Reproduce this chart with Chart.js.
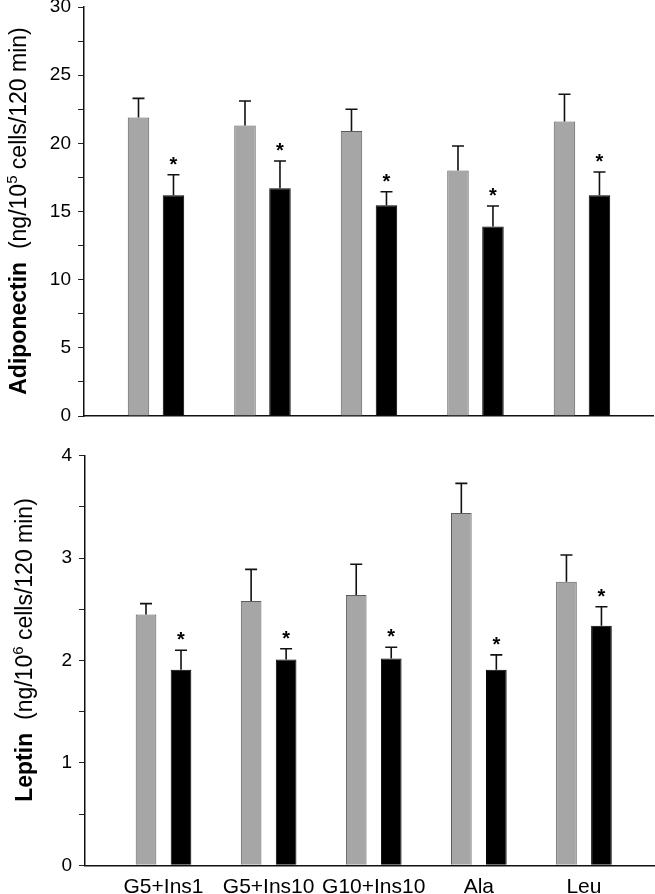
<!DOCTYPE html>
<html>
<head>
<meta charset="utf-8">
<script src="https://cdn.jsdelivr.net/npm/chart.js@4/dist/chart.umd.min.js"></script>
<style>
  html, body { margin: 0; padding: 0; background: #fff; }
  canvas { display: block; }
</style>
</head>
<body>
<canvas id="adipoChart" width="655" height="440"></canvas>
<canvas id="leptinChart" width="655" height="454"></canvas>
<script>
// categories shared by both panels
const categories = ['G5+Ins1', 'G5+Ins10', 'G10+Ins10', 'Ala', 'Leu'];

// Adiponectin (ng/10^5 cells/120 min)
const adipoGray = [21.9, 21.3, 20.9, 18.0, 21.6];
const adipoGraySem = [1.4, 1.8, 1.6, 1.8, 2.0];
const adipoBlack = [16.2, 16.7, 15.45, 13.9, 16.2];
const adipoBlackSem = [1.5, 2.0, 1.0, 1.5, 1.7];
const adipoSig = [true, true, true, true, true];

// Leptin (ng/10^6 cells/120 min)
const leptinGray = [2.45, 2.58, 2.64, 3.44, 2.77];
const leptinGraySem = [0.105, 0.31, 0.30, 0.29, 0.26];
const leptinBlack = [1.91, 2.01, 2.02, 1.91, 2.34];
const leptinBlackSem = [0.19, 0.105, 0.11, 0.145, 0.185];
const leptinSig = [true, true, true, true, true];

Chart.defaults.font.family = "'Liberation Sans', Arial, sans-serif";
Chart.defaults.color = '#000';

// error bars (upper only) + significance stars
const errorBars = {
    id: 'errorBars',
    afterDatasetsDraw(chart) {
        const ctx = chart.ctx;
        const y = chart.scales.y;
        ctx.save();
        ctx.strokeStyle = '#111';
        ctx.fillStyle = '#000';
        ctx.lineWidth = 1.6;
        ctx.font = "bold 20px 'Liberation Sans', Arial, sans-serif";
        ctx.textAlign = 'center';
        ctx.textBaseline = 'alphabetic';
        chart.data.datasets.forEach((ds, di) => {
            const meta = chart.getDatasetMeta(di);
            meta.data.forEach((bar, i) => {
                const top = y.getPixelForValue(ds.data[i].y + ds.sem[i]);
                ctx.beginPath();
                ctx.moveTo(bar.x, bar.y);
                ctx.lineTo(bar.x, top);
                ctx.moveTo(bar.x - 6, top);
                ctx.lineTo(bar.x + 6, top);
                ctx.stroke();
                if (ds.sig && ds.sig[i]) {
                    ctx.fillText('*', bar.x, top - 4);
                }
            });
        });
        ctx.restore();
    }
};

// rotated y title with bold name + superscript unit
const axisTitle = {
    id: 'axisTitle',
    afterDraw(chart, args, opts) {
        if (!opts || !opts.bold) return;
        const ctx = chart.ctx;
        const fam = "'Liberation Sans', Arial, sans-serif";
        const fBold = 'bold 23px ' + fam;
        const fReg = '23px ' + fam;
        const fSup = '15px ' + fam;
        ctx.save();
        ctx.font = fBold; const w1 = ctx.measureText(opts.bold).width;
        ctx.font = fReg; const w2 = ctx.measureText(opts.pre).width;
        ctx.font = fSup; const w3 = ctx.measureText(opts.sup).width;
        ctx.font = fReg; const w4 = ctx.measureText(opts.post).width;
        const total = w1 + w2 + w3 + w4;
        ctx.translate(opts.x, opts.cy);
        ctx.rotate(-Math.PI / 2);
        ctx.fillStyle = '#000';
        ctx.textBaseline = 'alphabetic';
        ctx.textAlign = 'left';
        let pos = -total / 2;
        ctx.font = fBold; ctx.fillText(opts.bold, pos, 0); pos += w1;
        ctx.font = fReg; ctx.fillText(opts.pre, pos, 0); pos += w2;
        ctx.font = fSup; ctx.fillText(opts.sup, pos, -9); pos += w3;
        ctx.font = fReg; ctx.fillText(opts.post, pos, 0);
        ctx.restore();
    }
};

function toPoints(values) {
    return values.map((v, i) => ({ x: i, y: v }));
}

function makePanel(id, p) {
    new Chart(document.getElementById(id), {
        type: 'bar',
        data: {
            datasets: [
                {
                    data: toPoints(p.gray),
                    sem: p.graySem,
                    backgroundColor: '#a6a6a6',
                    borderColor: '#5c5c5c',
                    borderWidth: 1,
                    categoryPercentage: p.catPct,
                    barPercentage: p.barPct
                },
                {
                    data: toPoints(p.black),
                    sem: p.blackSem,
                    sig: p.sig,
                    backgroundColor: '#000',
                    borderColor: '#000',
                    borderWidth: 1,
                    categoryPercentage: p.catPct,
                    barPercentage: p.barPct
                }
            ]
        },
        options: {
            responsive: false,
            animation: false,
            events: [],
            layout: { padding: p.padding },
            plugins: {
                legend: { display: false },
                tooltip: { enabled: false },
                axisTitle: p.title
            },
            scales: {
                x: {
                    type: 'linear',
                    offset: false,
                    min: p.xMin,
                    max: p.xMax,
                    grid: { display: false, offset: false },
                    border: { display: true, color: '#111', width: 1.5 },
                    afterBuildTicks: (s) => { s.ticks = categories.map((c, i) => ({ value: i })); },
                    afterFit: (s) => { s.height = p.xHeight; s.paddingLeft = 0; s.paddingRight = 0; },
                    ticks: {
                        display: p.showLabels,
                        padding: 1,
                        font: { size: 21 },
                        color: '#000',
                        maxRotation: 0,
                        autoSkip: false,
                        callback: (v) => categories[v]
                    }
                },
                y: {
                    min: 0,
                    max: p.yMax,
                    afterFit: (s) => { s.width = p.yWidth; s.paddingTop = 0; s.paddingBottom = 0; },
                    grid: { drawOnChartArea: false, drawTicks: true, tickLength: 6, color: '#222', lineWidth: 1 },
                    border: { display: true, color: '#111', width: 1.5 },
                    ticks: {
                        stepSize: p.step,
                        padding: 7,
                        font: { size: 19 },
                        color: '#000',
                        autoSkip: false,
                        callback: (v) => (Math.abs(v / p.major - Math.round(v / p.major)) < 1e-6 ? String(v) : '')
                    }
                }
            }
        },
        plugins: [errorBars, axisTitle]
    });
}

// 1. Adiponectin
makePanel('adipoChart', {
    gray: adipoGray, graySem: adipoGraySem,
    black: adipoBlack, blackSem: adipoBlackSem, sig: adipoSig,
    catPct: 0.657, barPct: 0.614,
    padding: { top: 7, right: 2, left: 0, bottom: 0 },
    xMin: -0.676, xMax: 4.667, xHeight: 24, showLabels: false,
    yMax: 30, step: 2.5, major: 5, yWidth: 84,
    title: { bold: 'Adiponectin', pre: '  (ng/10', sup: '5', post: ' cells/120 min)', x: 26, cy: 211 }
});

// 2. Leptin
makePanel('leptinChart', {
    gray: leptinGray, graySem: leptinGraySem,
    black: leptinBlack, blackSem: leptinBlackSem, sig: leptinSig,
    catPct: 0.666, barPct: 0.59,
    padding: { top: 15.7, right: 0, left: 0, bottom: 0 },
    xMin: -0.747, xMax: 4.676, xHeight: 28.7, showLabels: true,
    yMax: 4, step: 0.5, major: 1, yWidth: 85,
    title: { bold: 'Leptin', pre: '  (ng/10', sup: '6', post: ' cells/120 min)', x: 32, cy: 210 }
});
</script>
</body>
</html>
